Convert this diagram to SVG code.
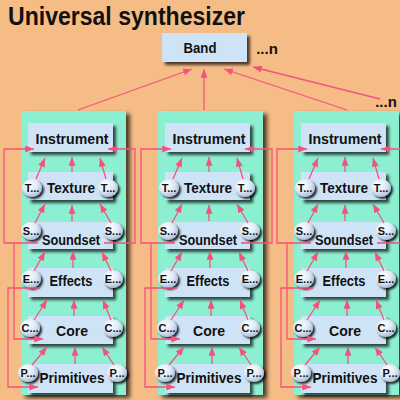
<svg xmlns="http://www.w3.org/2000/svg" width="400" height="400" viewBox="0 0 400 400">
<defs>
<style>
.bg{fill:#F6BC86}
.panel{fill:#8CEFD2;filter:url(#psh)}
.box{fill:#CFE3F6;filter:url(#bsh)}
.bub{fill:url(#bubg);filter:url(#csh)}
.lbl{font-family:"Liberation Sans",Arial,sans-serif;font-weight:bold;font-size:15px;fill:#111;text-anchor:middle}
.ss{font-size:14px}
.sm{font-family:"Liberation Sans",Arial,sans-serif;font-weight:bold;font-size:11px;fill:#111;text-anchor:middle}
.title{font-family:"Liberation Sans",Arial,sans-serif;font-weight:bold;font-size:25px;fill:#111}
.conn path{fill:none;stroke:#F4527C;stroke-width:1.3;marker-end:url(#ah)}
</style>
<marker id="ah" viewBox="0 0 10 8" refX="10" refY="4" markerWidth="10" markerHeight="7" markerUnits="userSpaceOnUse" orient="auto"><path d="M0,0 L10,4 L0,8 z" fill="#F4527C"/></marker>
<filter id="bsh" x="-10%" y="-20%" width="130%" height="150%"><feDropShadow dx="3" dy="3" stdDeviation="1.5" flood-color="#000" flood-opacity="0.7"/></filter>
<filter id="psh" x="-10%" y="-5%" width="130%" height="115%"><feDropShadow dx="4" dy="3" stdDeviation="2" flood-color="#000" flood-opacity="0.7"/></filter>
<filter id="csh" x="-30%" y="-30%" width="170%" height="170%"><feDropShadow dx="2" dy="2" stdDeviation="1.2" flood-color="#000" flood-opacity="0.85"/></filter>
<radialGradient id="bubg" cx="0.38" cy="0.32" r="0.7"><stop offset="0" stop-color="#ffffff"/><stop offset="0.55" stop-color="#dfeaf6"/><stop offset="1" stop-color="#a7bdd6"/></radialGradient>
</defs>
<rect class="bg" x="0" y="0" width="400" height="400"/>
<text class="title" x="8" y="25" textLength="237" lengthAdjust="spacingAndGlyphs">Universal synthesizer</text>

<g id="band"><rect class="box" x="162" y="33" width="85" height="29"/><text class="lbl" x="200" y="53" font-size="14" textLength="33" lengthAdjust="spacingAndGlyphs">Band</text></g>
<text class="lbl" x="267" y="54" font-size="14">...n</text>
<text class="lbl" x="386" y="107" font-size="14">...n</text>

<g id="col1">
<g id="panel1"><rect class="panel" x="21" y="111" width="105" height="284"/></g>
<g id="instrument1"><rect class="box" x="28" y="123" width="85" height="29"/><text class="lbl" x="72" y="144" textLength="73" lengthAdjust="spacingAndGlyphs">Instrument</text></g>
<g id="texture1"><rect class="box" x="28" y="172" width="85" height="28"/><text class="lbl" x="71" y="193" textLength="48" lengthAdjust="spacingAndGlyphs">Texture</text>
<ellipse class="bub" cx="32" cy="188" rx="10" ry="9"/><text class="sm" x="32" y="192">T...</text>
<ellipse class="bub" cx="108" cy="188" rx="10" ry="9"/><text class="sm" x="108" y="192">T...</text></g>
<g id="soundset1"><rect class="box" x="28" y="222" width="85" height="27"/><text class="lbl ss" x="71" y="245" textLength="58" lengthAdjust="spacingAndGlyphs">Soundset</text>
<ellipse class="bub" cx="31" cy="231" rx="10" ry="9"/><text class="sm" x="31" y="235">S...</text>
<ellipse class="bub" cx="113" cy="231" rx="10" ry="9"/><text class="sm" x="113" y="235">S...</text></g>
<g id="effects1"><rect class="box" x="28" y="268" width="85" height="29"/><text class="lbl" x="71" y="286" textLength="43" lengthAdjust="spacingAndGlyphs">Effects</text>
<ellipse class="bub" cx="31" cy="279" rx="10" ry="9"/><text class="sm" x="31" y="283">E...</text>
<ellipse class="bub" cx="113" cy="279" rx="10" ry="9"/><text class="sm" x="113" y="283">E...</text></g>
<g id="core1"><rect class="box" x="28" y="316" width="85" height="28"/><text class="lbl" x="72" y="336" textLength="32" lengthAdjust="spacingAndGlyphs">Core</text>
<ellipse class="bub" cx="30" cy="328" rx="10" ry="9"/><text class="sm" x="30" y="332">C...</text>
<ellipse class="bub" cx="113" cy="328" rx="10" ry="9"/><text class="sm" x="113" y="332">C...</text></g>
<g id="primitives1"><rect class="box" x="28" y="364" width="85" height="29"/><text class="lbl" x="72" y="383" textLength="65" lengthAdjust="spacingAndGlyphs">Primitives</text>
<ellipse class="bub" cx="28" cy="373" rx="10" ry="9"/><text class="sm" x="28" y="377">P...</text>
<ellipse class="bub" cx="117" cy="373" rx="10" ry="9"/><text class="sm" x="117" y="377">P...</text></g>
</g>

<g id="col2" transform="translate(137,0)">
<g id="panel2"><rect class="panel" x="21" y="111" width="105" height="284"/></g>
<g id="instrument2"><rect class="box" x="28" y="123" width="85" height="29"/><text class="lbl" x="72" y="144" textLength="73" lengthAdjust="spacingAndGlyphs">Instrument</text></g>
<g id="texture2"><rect class="box" x="28" y="172" width="85" height="28"/><text class="lbl" x="71" y="193" textLength="48" lengthAdjust="spacingAndGlyphs">Texture</text>
<ellipse class="bub" cx="32" cy="188" rx="10" ry="9"/><text class="sm" x="32" y="192">T...</text>
<ellipse class="bub" cx="108" cy="188" rx="10" ry="9"/><text class="sm" x="108" y="192">T...</text></g>
<g id="soundset2"><rect class="box" x="28" y="222" width="85" height="27"/><text class="lbl ss" x="71" y="245" textLength="58" lengthAdjust="spacingAndGlyphs">Soundset</text>
<ellipse class="bub" cx="31" cy="231" rx="10" ry="9"/><text class="sm" x="31" y="235">S...</text>
<ellipse class="bub" cx="113" cy="231" rx="10" ry="9"/><text class="sm" x="113" y="235">S...</text></g>
<g id="effects2"><rect class="box" x="28" y="268" width="85" height="29"/><text class="lbl" x="71" y="286" textLength="43" lengthAdjust="spacingAndGlyphs">Effects</text>
<ellipse class="bub" cx="31" cy="279" rx="10" ry="9"/><text class="sm" x="31" y="283">E...</text>
<ellipse class="bub" cx="113" cy="279" rx="10" ry="9"/><text class="sm" x="113" y="283">E...</text></g>
<g id="core2"><rect class="box" x="28" y="316" width="85" height="28"/><text class="lbl" x="72" y="336" textLength="32" lengthAdjust="spacingAndGlyphs">Core</text>
<ellipse class="bub" cx="30" cy="328" rx="10" ry="9"/><text class="sm" x="30" y="332">C...</text>
<ellipse class="bub" cx="113" cy="328" rx="10" ry="9"/><text class="sm" x="113" y="332">C...</text></g>
<g id="primitives2"><rect class="box" x="28" y="364" width="85" height="29"/><text class="lbl" x="72" y="383" textLength="65" lengthAdjust="spacingAndGlyphs">Primitives</text>
<ellipse class="bub" cx="28" cy="373" rx="10" ry="9"/><text class="sm" x="28" y="377">P...</text>
<ellipse class="bub" cx="117" cy="373" rx="10" ry="9"/><text class="sm" x="117" y="377">P...</text></g>
</g>

<g id="col3" transform="translate(273,0)">
<g id="panel3"><rect class="panel" x="21" y="111" width="105" height="284"/></g>
<g id="instrument3"><rect class="box" x="28" y="123" width="85" height="29"/><text class="lbl" x="72" y="144" textLength="73" lengthAdjust="spacingAndGlyphs">Instrument</text></g>
<g id="texture3"><rect class="box" x="28" y="172" width="85" height="28"/><text class="lbl" x="71" y="193" textLength="48" lengthAdjust="spacingAndGlyphs">Texture</text>
<ellipse class="bub" cx="32" cy="188" rx="10" ry="9"/><text class="sm" x="32" y="192">T...</text>
<ellipse class="bub" cx="108" cy="188" rx="10" ry="9"/><text class="sm" x="108" y="192">T...</text></g>
<g id="soundset3"><rect class="box" x="28" y="222" width="85" height="27"/><text class="lbl ss" x="71" y="245" textLength="58" lengthAdjust="spacingAndGlyphs">Soundset</text>
<ellipse class="bub" cx="31" cy="231" rx="10" ry="9"/><text class="sm" x="31" y="235">S...</text>
<ellipse class="bub" cx="113" cy="231" rx="10" ry="9"/><text class="sm" x="113" y="235">S...</text></g>
<g id="effects3"><rect class="box" x="28" y="268" width="85" height="29"/><text class="lbl" x="71" y="286" textLength="43" lengthAdjust="spacingAndGlyphs">Effects</text>
<ellipse class="bub" cx="31" cy="279" rx="10" ry="9"/><text class="sm" x="31" y="283">E...</text>
<ellipse class="bub" cx="113" cy="279" rx="10" ry="9"/><text class="sm" x="113" y="283">E...</text></g>
<g id="core3"><rect class="box" x="28" y="316" width="85" height="28"/><text class="lbl" x="72" y="336" textLength="32" lengthAdjust="spacingAndGlyphs">Core</text>
<ellipse class="bub" cx="30" cy="328" rx="10" ry="9"/><text class="sm" x="30" y="332">C...</text>
<ellipse class="bub" cx="113" cy="328" rx="10" ry="9"/><text class="sm" x="113" y="332">C...</text></g>
<g id="primitives3"><rect class="box" x="28" y="364" width="85" height="29"/><text class="lbl" x="72" y="383" textLength="65" lengthAdjust="spacingAndGlyphs">Primitives</text>
<ellipse class="bub" cx="28" cy="373" rx="10" ry="9"/><text class="sm" x="28" y="377">P...</text>
<ellipse class="bub" cx="117" cy="373" rx="10" ry="9"/><text class="sm" x="117" y="377">P...</text></g>
</g>

<g id="connectors" class="conn">
<path d="M78,110 L192,69"/>
<path d="M204,110 L204,69"/>
<path d="M347,110 L224,69"/>
<path d="M380,99 L253,67"/>
<g id="conn-col1">
<path d="M36,179 L45,158"/><path d="M72,172 L72,157"/><path d="M106,179 L100,158"/>
<path d="M35,223 L45,204"/><path d="M72,221 L72,205"/><path d="M111,223 L100,204"/>
<path d="M34,271 L45,252"/><path d="M73,268 L73,251"/><path d="M111,271 L102,252"/>
<path d="M34,320 L47,300"/><path d="M74,316 L74,300"/><path d="M111,320 L103,300"/>
<path d="M32,365 L47,347"/><path d="M75,364 L75,347"/><path d="M114,365 L102,347"/>
<path d="M38,243 H4 V149 H34"/>
<path d="M104,243 H135 V149 H108"/>
<path d="M14,243 V339 H43"/>
<path d="M40,288 H8 V387 H38"/>
</g>
<g id="conn-col2" transform="translate(137,0)">
<path d="M36,179 L45,158"/><path d="M72,172 L72,157"/><path d="M106,179 L100,158"/>
<path d="M35,223 L45,204"/><path d="M72,221 L72,205"/><path d="M111,223 L100,204"/>
<path d="M34,271 L45,252"/><path d="M73,268 L73,251"/><path d="M111,271 L102,252"/>
<path d="M34,320 L47,300"/><path d="M74,316 L74,300"/><path d="M111,320 L103,300"/>
<path d="M32,365 L47,347"/><path d="M75,364 L75,347"/><path d="M114,365 L102,347"/>
<path d="M38,243 H4 V149 H34"/>
<path d="M104,243 H135 V149 H108"/>
<path d="M14,243 V339 H43"/>
<path d="M40,288 H8 V387 H38"/>
</g>
<g id="conn-col3" transform="translate(273,0)">
<path d="M36,179 L45,158"/><path d="M72,172 L72,157"/><path d="M106,179 L100,158"/>
<path d="M35,223 L45,204"/><path d="M72,221 L72,205"/><path d="M111,223 L100,204"/>
<path d="M34,271 L45,252"/><path d="M73,268 L73,251"/><path d="M111,271 L102,252"/>
<path d="M34,320 L47,300"/><path d="M74,316 L74,300"/><path d="M111,320 L103,300"/>
<path d="M32,365 L47,347"/><path d="M75,364 L75,347"/><path d="M114,365 L102,347"/>
<path d="M38,243 H4 V149 H34"/>
<path d="M104,243 H135 V149 H108"/>
<path d="M14,243 V339 H43"/>
<path d="M40,288 H8 V387 H38"/>
</g>
</g>
</svg>
